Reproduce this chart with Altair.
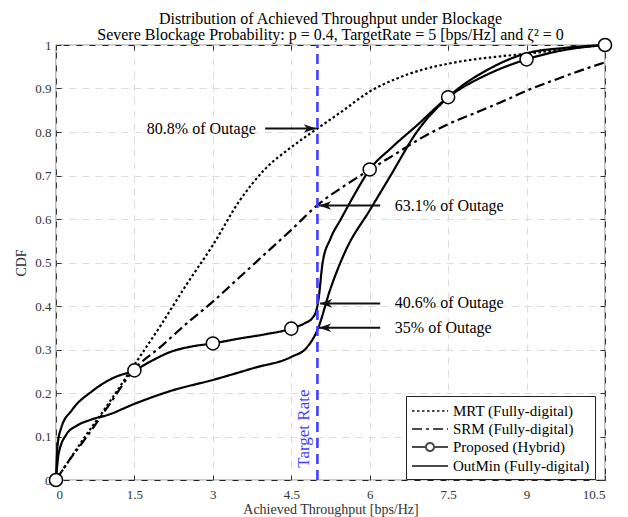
import altair as alt
import pandas as pd

FONT = "Liberation Serif"

series_names = ["MRT (Fully-digital)", "SRM (Fully-digital)", "Proposed (Hybrid)", "OutMin (Fully-digital)"]

grid_x = [0, 0.25, 0.5, 1, 1.5, 2, 2.5, 3, 3.5, 4, 4.5, 5, 5.5, 6, 6.5, 7, 7.5, 8, 8.5, 9, 9.5, 10, 10.5]
mrt_y = [0, 0.045, 0.09, 0.175, 0.265, 0.355, 0.45, 0.54, 0.64, 0.715, 0.765, 0.808, 0.85, 0.893, 0.922,
         0.943, 0.957, 0.967, 0.974, 0.98, 0.987, 0.994, 1.0]
srm_y = [0, 0.045, 0.085, 0.17, 0.255, 0.306, 0.36, 0.41, 0.465, 0.52, 0.575, 0.632, 0.675, 0.713, 0.75,
         0.787, 0.818, 0.843, 0.868, 0.895, 0.918, 0.94, 0.96]

prop_x = [0, 0.03, 0.1, 0.3, 0.7, 1.1, 1.5, 1.8, 2.2, 2.6, 3, 3.5, 4, 4.5, 4.75, 4.9, 4.98, 5.02, 5.1,
          5.25, 5.45, 5.75, 6, 6.4, 6.9, 7.5, 8.3, 9, 9.7, 10.5]
prop_y = [0, 0.08, 0.12, 0.16, 0.205, 0.235, 0.252, 0.272, 0.295, 0.307, 0.314, 0.325, 0.335, 0.348, 0.36,
          0.372, 0.39, 0.415, 0.5, 0.555, 0.6, 0.665, 0.714, 0.762, 0.815, 0.88, 0.935, 0.967, 0.988, 1.0]

outmin_x = [0, 0.05, 0.2, 0.4, 0.65, 1, 1.5, 2.2, 3, 3.8, 4.5, 4.8, 5, 5.25, 5.55, 6, 6.4, 6.9, 7.5, 8.3,
            9, 9.7, 10.5]
outmin_y = [0, 0.06, 0.105, 0.125, 0.138, 0.15, 0.175, 0.205, 0.23, 0.258, 0.283, 0.305, 0.345, 0.44,
            0.53, 0.62, 0.70, 0.80, 0.88, 0.946, 0.981, 0.993, 1.0]

marker_x = [0, 1.5, 3, 4.5, 6, 7.5, 9, 10.5]
marker_y = [0, 0.252, 0.314, 0.348, 0.714, 0.88, 0.967, 1.0]

target_rate = 5
ann_text = ["80.8% of Outage", "63.1% of Outage", "40.6% of Outage", "35% of Outage"]
ann_y = [0.808, 0.631, 0.406, 0.35]
ann_text_x = [3.82, 6.48, 6.48, 6.48]
ann_align = ["right", "left", "left", "left"]
ann_start = [4.0, 6.2, 6.2, 6.2]
ann_tip = [4.97, 5.03, 5.05, 5.03]
ann_dir = ["right", "left", "left", "left"]

x_ticks = [0, 1.5, 3, 4.5, 6, 7.5, 9, 10.5]
y_ticks = [0, 0.1, 0.2, 0.3, 0.4, 0.5, 0.6, 0.7, 0.8, 0.9, 1]

rows = []
for name, xs_, ys_ in [(series_names[0], grid_x, mrt_y), (series_names[1], grid_x, srm_y),
                       (series_names[2], prop_x, prop_y), (series_names[3], outmin_x, outmin_y)]:
    for i, (a, b) in enumerate(zip(xs_, ys_)):
        rows.append({"series": name, "x": a, "y": b, "i": i})
df = pd.DataFrame(rows)
mk = pd.DataFrame({"series": series_names[2], "x": marker_x, "y": marker_y})
tr = pd.DataFrame({"x": [target_rate, target_rate], "y": [0, 1]})
ann = pd.DataFrame({"text": ann_text, "y": ann_y, "tx": ann_text_x, "align": ann_align,
                    "x1": ann_start, "x2": ann_tip, "dir": ann_dir})
leg = pd.DataFrame({"series": series_names, "x": [None] * 4, "y": [None] * 4})

dashes = [[2.5, 2.5], [10, 4, 3, 4], [1, 0], [1, 0]]
line_path = "M-1,0 L3,0"
prop_path = ("M-1,0 L0.55,0 M1.45,0 L3,0 M0.55,0 A0.45,0.45 0 1,0 1.45,0 "
             "A0.45,0.45 0 1,0 0.55,0")
shapes = [line_path, line_path, prop_path, line_path]

xs = alt.Scale(domain=[0, 10.5], nice=False, zero=False)
ys = alt.Scale(domain=[0, 1], nice=False, zero=False)
dash_scale = alt.Scale(domain=series_names, range=dashes)


def X(field):
    return alt.X(field, scale=xs, axis=None)


def Y(field):
    return alt.Y(field, scale=ys, axis=None)


x_main = alt.X("x:Q", scale=xs, title="Achieved Throughput [bps/Hz]",
               axis=alt.Axis(values=x_ticks, format=".1~f", grid=True, gridDash=[7, 6], gridColor="#dcdcdc",
                             domain=False, ticks=True, tickSize=5, offset=-5, tickColor="#333333",
                             labelPadding=8, titlePadding=1))
y_main = alt.Y("y:Q", scale=ys, title="CDF",
               axis=alt.Axis(values=y_ticks, format=".1~f", grid=True, gridDash=[7, 6], gridColor="#dcdcdc",
                             domain=False, ticks=True, tickSize=5, offset=-5, tickColor="#333333",
                             labelPadding=5, titlePadding=6))

legend_def = alt.Legend(title=None, orient="none", legendX=350, legendY=351,
                        symbolSize=324, symbolStrokeWidth=2, symbolStrokeColor="black",
                        symbolFillColor="white", labelFont=FONT, labelFontSize=15,
                        labelColor="black", strokeColor="#222222", fillColor="white",
                        padding=5, rowPadding=0, labelOffset=22, cornerRadius=0)

lines = alt.Chart(df).mark_line(interpolate="monotone", strokeWidth=2.2, color="black").encode(
    x=x_main, y=y_main,
    strokeDash=alt.StrokeDash("series:N", scale=dash_scale, legend=legend_def),
    detail="series:N", order="i:Q")

x_top = alt.X("x:Q", scale=xs, axis=alt.Axis(orient="top", values=x_ticks, labels=False, title=None,
                                              grid=False, domain=False, tickSize=5, offset=-5,
                                              tickColor="#333333"))
y_right = alt.Y("y:Q", scale=ys, axis=alt.Axis(orient="right", values=y_ticks, labels=False, title=None,
                                                grid=False, domain=False, tickSize=5, offset=-5,
                                                tickColor="#333333"))

markers = alt.Chart(mk).mark_point(shape="circle", filled=True, fill="white", stroke="black",
                                   strokeWidth=1.5, size=170, opacity=1).encode(x=x_top, y=y_right)

legend_layer = alt.Chart(leg).mark_point(color="black", strokeWidth=2).encode(
    x=X("x:Q"), y=Y("y:Q"),
    shape=alt.Shape("series:N", scale=alt.Scale(domain=series_names, range=shapes), legend=legend_def),
    strokeDash=alt.StrokeDash("series:N", scale=dash_scale, legend=legend_def))

target = alt.Chart(tr).mark_line(color="#3f3fff", strokeWidth=2.6, strokeDash=[10, 6]).encode(
    x=X("x:Q"), y=Y("y:Q"))
target_lbl = alt.Chart(pd.DataFrame({"x": [4.74], "y": [0.118], "t": ["Target Rate"]})).mark_text(
    angle=270, font=FONT, fontSize=17, color="#3f3fff", align="center", baseline="middle").encode(
    x=X("x:Q"), y=Y("y:Q"), text="t:N")

arrow_lines = alt.Chart(ann).mark_rule(color="#111111", strokeWidth=2).encode(
    x=X("x1:Q"), x2="x2:Q", y=Y("y:Q"))
head_r = "M1,0 L-1,-0.7 L-0.45,0 L-1,0.7 Z"
head_l = "M-1,0 L1,-0.7 L0.45,0 L1,0.7 Z"
heads_r = alt.Chart(ann).transform_filter("datum.dir == 'right'").mark_point(
    shape=head_r, filled=True, color="#111111", size=150, xOffset=-6, opacity=1).encode(
    x=X("x2:Q"), y=Y("y:Q"))
heads_l = alt.Chart(ann).transform_filter("datum.dir == 'left'").mark_point(
    shape=head_l, filled=True, color="#111111", size=150, xOffset=6, opacity=1).encode(
    x=X("x2:Q"), y=Y("y:Q"))
ann_r = alt.Chart(ann).transform_filter("datum.align == 'right'").mark_text(
    font=FONT, fontSize=16, align="right", baseline="middle", color="black").encode(
    x=X("tx:Q"), y=Y("y:Q"), text="text:N")
ann_l = alt.Chart(ann).transform_filter("datum.align == 'left'").mark_text(
    font=FONT, fontSize=16, align="left", baseline="middle", color="black").encode(
    x=X("tx:Q"), y=Y("y:Q"), text="text:N")

chart = alt.layer(lines, target, target_lbl, arrow_lines, heads_r, heads_l, ann_r, ann_l, markers,
                  legend_layer).resolve_axis(x="independent", y="independent").properties(
    width=549, height=435,
    autosize=alt.AutoSizeParams(type="none"),
    padding={"left": 56, "top": 45, "right": 23, "bottom": 37},
    title=alt.Title(["Distribution of Achieved Throughput under Blockage",
                     "Severe Blockage Probability: p = 0.4, TargetRate = 5 [bps/Hz] and \u03b6\u00b2 = 0"],
                    font=FONT, fontSize=16, fontWeight="normal", color="black", anchor="middle",
                    offset=-8, lineHeight=16)
).configure_view(stroke="#222222", strokeWidth=1.2).configure_axis(
    labelFont=FONT, titleFont=FONT, labelFontSize=13, titleFontSize=14, labelColor="#333333",
    titleColor="#333333", titleFontWeight="normal")

chart.save("out.html", embed_options={"renderer": "svg", "actions": False})
